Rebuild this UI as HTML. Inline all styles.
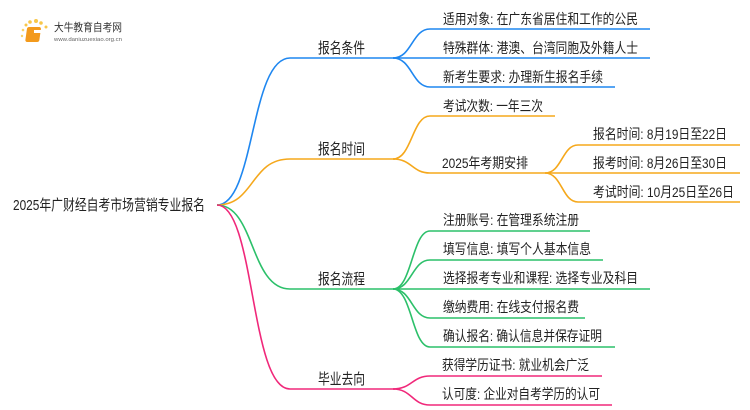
<!DOCTYPE html>
<html><head><meta charset="utf-8"><style>
html,body{margin:0;padding:0;background:#fff;width:750px;height:410px;overflow:hidden}
text{font-family:"Liberation Sans","Noto Sans CJK SC",sans-serif;font-size:14px;fill:#222}
</style></head><body>
<svg width="750" height="410" viewBox="0 0 750 410" xmlns="http://www.w3.org/2000/svg">
<g fill="none" stroke-width="1.6">
<g stroke="#1f87f0">
<path d="M217 205 C255 205 250 58 290 58 H395"/>
<path d="M393 58 C412 58 412 29 430 29 H650"/>
<path d="M393 58 H650"/>
<path d="M393 58 C412 58 412 87 430 87 H615"/>
</g>
<g stroke="#f5a81c">
<path d="M217 205 C255 205 250 159 290 159 H395"/>
<path d="M393 159 C412 159 412 116 430 116 H555"/>
<path d="M393 159 C412 159 412 173 430 173 H545"/>
<path d="M545 173 C562 173 562 145 578 145 H740"/>
<path d="M545 173 H740"/>
<path d="M545 173 C562 173 562 202 578 202 H740"/>
</g>
<g stroke="#2cc06a">
<path d="M217 205 C255 205 250 289 290 289 H395"/>
<path d="M393 289 C412 289 412 231 430 231 H590"/>
<path d="M393 289 C412 289 412 260 430 260 H603"/>
<path d="M393 289 H650"/>
<path d="M393 289 C412 289 412 318 430 318 H585"/>
<path d="M393 289 C412 289 412 347 430 347 H615"/>
</g>
<g stroke="#f0287a">
<path d="M217 205 C255 205 250 389 290 389 H395"/>
<path d="M393 389 C412 389 412 376 430 376 H602"/>
<path d="M393 389 C412 389 412 405 430 405 H612"/>
</g>
</g>
<g>
<circle cx="26" cy="25" r="1.5" fill="#f8c74a"/><circle cx="30" cy="22" r="1.8" fill="#f8c74a"/>
<circle cx="36" cy="21" r="2" fill="#f8c74a"/><circle cx="41" cy="23" r="1.8" fill="#f8c74a"/>
<circle cx="46" cy="27" r="1.5" fill="#f8c74a"/>
<circle cx="23" cy="30" r="1.3" fill="#f8d46a"/><circle cx="22" cy="36" r="1.2" fill="#f8d46a"/>
<rect x="31" y="27" width="14" height="15" rx="2" fill="#f39a1c" transform="skewX(-8)"/>
<rect x="34" y="30" width="8" height="3" fill="#fff"/>
</g>
<text x="54" y="31" style="font-size:11px;fill:#333" textLength="68" lengthAdjust="spacingAndGlyphs">大牛教育自考网</text>
<text x="54" y="41" style="font-size:5.5px;fill:#666" textLength="68" lengthAdjust="spacingAndGlyphs">www.daniuzuexiao.org.cn</text>
<text x="13" y="210" style="font-size:15px" textLength="192" lengthAdjust="spacingAndGlyphs">2025年广财经自考市场营销专业报名</text>
<text x="318" y="53" style="font-size:15px" textLength="47" lengthAdjust="spacingAndGlyphs">报名条件</text>
<text x="318" y="154" style="font-size:15px" textLength="47" lengthAdjust="spacingAndGlyphs">报名时间</text>
<text x="318" y="284" style="font-size:15px" textLength="47" lengthAdjust="spacingAndGlyphs">报名流程</text>
<text x="318" y="384" style="font-size:15px" textLength="47" lengthAdjust="spacingAndGlyphs">毕业去向</text>
<text x="443" y="24" textLength="195" lengthAdjust="spacingAndGlyphs">适用对象: 在广东省居住和工作的公民</text>
<text x="443" y="53" textLength="195" lengthAdjust="spacingAndGlyphs">特殊群体: 港澳、台湾同胞及外籍人士</text>
<text x="443" y="82" textLength="160" lengthAdjust="spacingAndGlyphs">新考生要求: 办理新生报名手续</text>
<text x="443" y="111" textLength="100" lengthAdjust="spacingAndGlyphs">考试次数: 一年三次</text>
<text x="442" y="168" textLength="86" lengthAdjust="spacingAndGlyphs">2025年考期安排</text>
<text x="593" y="139" textLength="134" lengthAdjust="spacingAndGlyphs">报名时间: 8月19日至22日</text>
<text x="593" y="168" textLength="134" lengthAdjust="spacingAndGlyphs">报考时间: 8月26日至30日</text>
<text x="593" y="197" textLength="141" lengthAdjust="spacingAndGlyphs">考试时间: 10月25日至26日</text>
<text x="443" y="225" textLength="136" lengthAdjust="spacingAndGlyphs">注册账号: 在管理系统注册</text>
<text x="443" y="254" textLength="148" lengthAdjust="spacingAndGlyphs">填写信息: 填写个人基本信息</text>
<text x="443" y="283" textLength="195" lengthAdjust="spacingAndGlyphs">选择报考专业和课程: 选择专业及科目</text>
<text x="443" y="312" textLength="136" lengthAdjust="spacingAndGlyphs">缴纳费用: 在线支付报名费</text>
<text x="443" y="341" textLength="159" lengthAdjust="spacingAndGlyphs">确认报名: 确认信息并保存证明</text>
<text x="442" y="370" textLength="147" lengthAdjust="spacingAndGlyphs">获得学历证书: 就业机会广泛</text>
<text x="442" y="399" textLength="158" lengthAdjust="spacingAndGlyphs">认可度: 企业对自考学历的认可</text>
</svg>
</body></html>
